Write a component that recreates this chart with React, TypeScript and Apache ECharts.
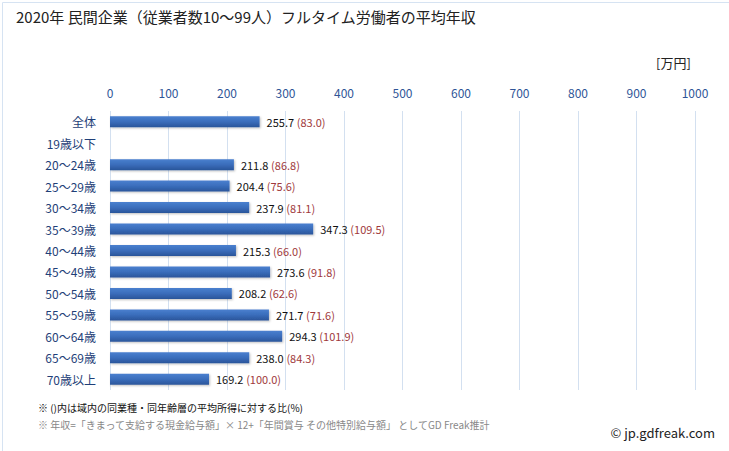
import React, { useEffect, useRef } from "react";
import * as echarts from "echarts";

const categories = ["全体", "19歳以下", "20〜24歳", "25〜29歳", "30〜34歳", "35〜39歳", "40〜44歳", "45〜49歳", "50〜54歳", "55〜59歳", "60〜64歳", "65〜69歳", "70歳以上"];
const incomes: (number | null)[] = [255.7, null, 211.8, 204.4, 237.9, 347.3, 215.3, 273.6, 208.2, 271.7, 294.3, 238.0, 169.2];
const ratios: (number | null)[] = [83.0, null, 86.8, 75.6, 81.1, 109.5, 66.0, 91.8, 62.6, 71.6, 101.9, 84.3, 100.0];
const xTicks = [0, 100, 200, 300, 400, 500, 600, 700, 800, 900, 1000];

export default function App() {
  const ref = useRef<HTMLDivElement>(null);
  useEffect(() => {
    if (!ref.current) return;
    const chart = echarts.init(ref.current, null, { renderer: "svg" });
    const font = "'Noto Sans CJK JP', 'Noto Sans', sans-serif";
    chart.setOption({
      animation: false,
      backgroundColor: "#ffffff",
      textStyle: { fontFamily: font },
      grid: { left: 110, right: 34, top: 111, bottom: 61 },
      xAxis: {
        type: "value",
        position: "top",
        min: xTicks[0],
        max: xTicks[xTicks.length - 1],
        interval: 100,
        axisLine: { show: false },
        axisTick: { show: false },
        axisLabel: { color: "#2F5597", fontSize: 12, margin: 13, fontFamily: font, formatter: (v: number) => String(v) },
        splitLine: { show: true, lineStyle: { color: "#D3E0F0", width: 1 } },
      },
      yAxis: {
        type: "category",
        data: categories,
        inverse: true,
        axisLine: { show: false },
        axisTick: { show: false },
        axisLabel: { color: "#1F3F78", fontSize: 12, margin: 14, fontFamily: font },
        splitLine: { show: false },
      },
      series: [
        {
          type: "bar",
          data: incomes,
          barWidth: 11,
          itemStyle: {
            color: new echarts.graphic.LinearGradient(0, 0, 0, 1, [
              { offset: 0, color: "#4A80CF" },
              { offset: 0.5, color: "#3A6DBB" },
              { offset: 1, color: "#2A559A" },
            ]),
            shadowColor: "rgba(0,0,0,0.25)",
            shadowBlur: 2,
            shadowOffsetX: 1,
            shadowOffsetY: 1,
          },
          label: {
            show: true,
            position: "right",
            distance: 7,
            fontFamily: font,
            formatter: (p: any) => {
              const r = ratios[p.dataIndex];
              if (p.value == null || r == null) return "";
              return `{v|${Number(p.value).toFixed(1)}} {r|(${r.toFixed(1)})}`;
            },
            rich: {
              v: { color: "#111111", fontSize: 11, fontFamily: font },
              r: { color: "#A0393B", fontSize: 11, fontFamily: font },
            },
          },
        },
      ],
      graphic: [
        {
          type: "rect",
          left: 0,
          top: 0,
          shape: { width: 728, height: 450 },
          style: { fill: "none", stroke: "#D6E3F2", lineWidth: 1 },
          z: -1,
        },
        {
          type: "text",
          left: 16,
          top: 9,
          style: { text: "2020年 民間企業（従業者数10〜99人）フルタイム労働者の平均年収", fontSize: 15, fill: "#222222", fontFamily: font },
        },
        {
          type: "text",
          left: 656,
          top: 56,
          style: { text: "[万円]", fontSize: 13, fill: "#222222", fontFamily: font },
        },
        {
          type: "text",
          left: 38,
          top: 402,
          style: { text: "※ ()内は域内の同業種・同年齢層の平均所得に対する比(%)", fontSize: 10, fill: "#111111", fontFamily: font },
        },
        {
          type: "text",
          left: 38,
          top: 419,
          style: { text: "※ 年収=「きまって支給する現金給与額」× 12+「年間賞与 その他特別給与額」 としてGD Freak推計", fontSize: 10, fill: "#888888", fontFamily: font },
        },
        {
          type: "text",
          right: 14,
          top: 426,
          style: { text: "© jp.gdfreak.com", fontSize: 13, fill: "#222222", fontFamily: font },
        },
      ],
    });
    return () => chart.dispose();
  }, []);
  return <div ref={ref} style={{ position: "absolute", left: 0, top: 0, width: 729, height: 451 }} />;
}
